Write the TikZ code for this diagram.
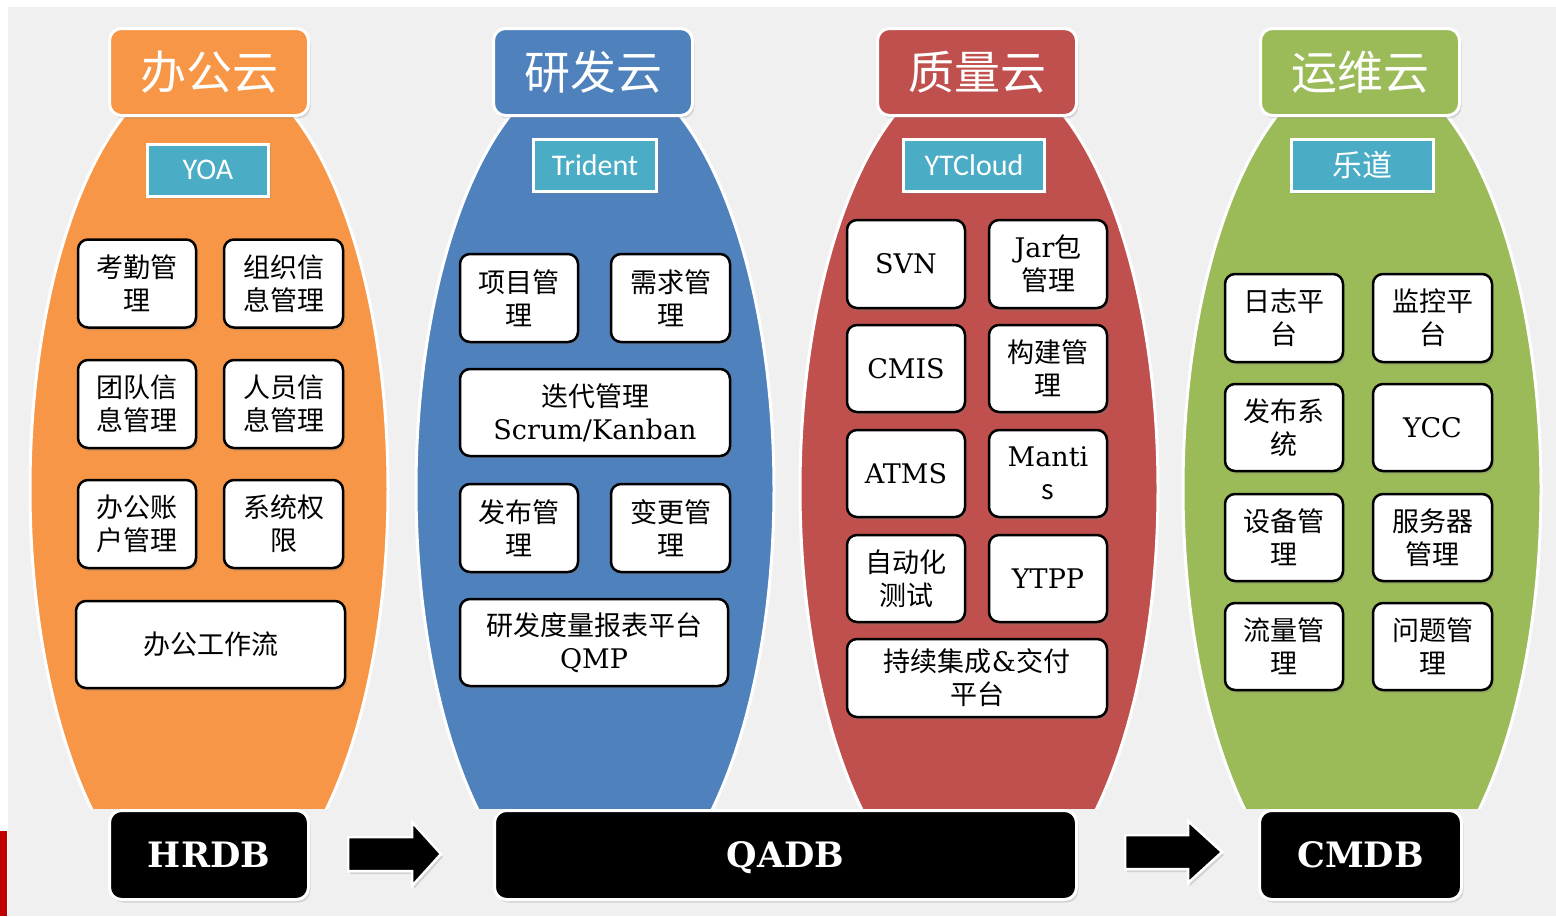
\documentclass[tikz,border=0pt]{standalone}
\usepackage{fontspec}
\setmainfont{DejaVu Serif}
\newfontfamily\cjk{Noto Sans CJK SC}
\newfontfamily\latf{DejaVu Serif}
\newfontfamily\subf{Carlito}
\usetikzlibrary{shadows}
\definecolor{bgc}{HTML}{F0F0F0}
\definecolor{orc}{HTML}{F79646}
\definecolor{blc}{HTML}{4F81BD}
\definecolor{rdc}{HTML}{C0504D}
\definecolor{grc}{HTML}{9BBB59}
\definecolor{cyc}{HTML}{4BACC6}
\definecolor{edgered}{HTML}{C00000}
\tikzset{
  shd/.style={drop shadow={opacity=0.25, shadow xshift=2pt, shadow yshift=-3pt}},
  headbox/.style={shd, rounded corners=12pt, draw=white, line width=3pt, text=white,
    font=\cjk\fontsize{46}{50}\selectfont, minimum width=199pt, minimum height=87pt, inner sep=0pt},
  subbox/.style={shd, fill=cyc, draw=white, line width=3pt, text=white,
    font=\subf\fontsize{30}{34}\selectfont, minimum height=52pt, inner sep=0pt},
  wbox/.style={shd, fill=white, draw=black, line width=2.5pt, rounded corners=10pt, align=center,
    font=\cjk\fontsize{27}{33}\selectfont, minimum height=88pt, minimum width=118pt, inner sep=1pt},
  dbbox/.style={shd, fill=black, draw=white, line width=3pt, rounded corners=12pt, text=white,
    font=\latf\bfseries\fontsize{35}{40}\selectfont, minimum height=89pt, inner sep=0pt,
    text height=25pt, text depth=0pt},
  cloud/.style={draw=white, line width=3pt},
  blockarrow/.style={fill=black, draw=white, line width=2.5pt, line join=miter, shd}
}
\begin{document}
\begin{tikzpicture}[x=1pt,y=-1pt]
\useasboundingbox (0,0) rectangle (1556,916);
\fill[white] (0,0) rectangle (1556,916);
\fill[bgc] (8,7) rectangle (1556,916);
\fill[edgered] (0,831) rectangle (7,916);

% cloud ellipses
\begin{scope}
\clip (0,100) rectangle (1556,808);
\path[cloud, fill=orc] (209,489) ellipse [x radius=179pt, y radius=424pt];
\path[cloud, fill=blc] (595,489) ellipse [x radius=179pt, y radius=424pt];
\path[cloud, fill=rdc] (979,489) ellipse [x radius=179pt, y radius=424pt];
\path[cloud, fill=grc] (1362,489) ellipse [x radius=179pt, y radius=424pt];
\end{scope}

% headers
\node[headbox, fill=orc] (h1) at (209,72) {办公云};
\node[headbox, fill=blc] (h2) at (593,72) {研发云};
\node[headbox, fill=rdc] (h3) at (977,72) {质量云};
\node[headbox, fill=grc] (h4) at (1360,72) {运维云};

% sub headers
\node[subbox, minimum width=121pt] (s1) at (208,170) {YOA};
\node[subbox, minimum width=123pt] (s2) at (595,165) {Trident};
\node[subbox, minimum width=141pt] (s3) at (974,165) {YTCloud};
\node[subbox, minimum width=142pt, font=\cjk\fontsize{30}{34}\selectfont] (s4) at (1362,165) {乐道};

% office cloud
\node[wbox] (a1) at (137,283.5) {考勤管\\理};
\node[wbox, minimum width=119pt] (a2) at (283.5,283.5) {组织信\\息管理};
\node[wbox] (a3) at (137,404) {团队信\\息管理};
\node[wbox, minimum width=119pt] (a4) at (283.5,404) {人员信\\息管理};
\node[wbox] (a5) at (137,524) {办公账\\户管理};
\node[wbox, minimum width=119pt] (a6) at (283.5,524) {系统权\\限};
\node[wbox, minimum width=269pt, minimum height=87pt] (a7) at (210.5,644.5) {办公工作流};

% R&D cloud
\node[wbox] (b1) at (519,298) {项目管\\理};
\node[wbox, minimum width=119pt] (b2) at (670.5,298) {需求管\\理};
\node[wbox, minimum width=270pt, minimum height=87pt] (b3) at (595,412.5) {迭代管理\\{\latf Scrum/Kanban}};
\node[wbox] (b4) at (519,528) {发布管\\理};
\node[wbox, minimum width=119pt] (b5) at (670.5,528) {变更管\\理};
\node[wbox, minimum width=268pt, minimum height=87pt] (b6) at (594,642.5) {研发度量报表平台\\{\latf QMP}};

% quality cloud
\node[wbox] (c1) at (906,264) {\latf SVN};
\node[wbox] (c2) at (1048,264) {{\latf Jar}包\\管理};
\node[wbox, minimum height=87pt] (c3) at (906,368.5) {\latf CMIS};
\node[wbox, minimum height=87pt] (c4) at (1048,368.5) {构建管\\理};
\node[wbox, minimum height=87pt] (c5) at (906,473.5) {\latf ATMS};
\node[wbox, minimum height=87pt] (c6) at (1048,473.5) {\latf Manti\\s};
\node[wbox, minimum height=87pt] (c7) at (906,578.5) {自动化\\测试};
\node[wbox, minimum height=87pt] (c8) at (1048,578.5) {\latf YTPP};
\node[wbox, minimum width=260pt, minimum height=78pt] (c9) at (977,678) {持续集成{\latf\&}交付\\平台};

% ops cloud
\node[wbox] (d1) at (1284,318) {日志平\\台};
\node[wbox, minimum width=119pt] (d2) at (1432.5,318) {监控平\\台};
\node[wbox, minimum height=87pt] (d3) at (1284,427.5) {发布系\\统};
\node[wbox, minimum width=119pt, minimum height=87pt] (d4) at (1432.5,427.5) {\latf YCC};
\node[wbox, minimum height=87pt] (d5) at (1284,537.5) {设备管\\理};
\node[wbox, minimum width=119pt, minimum height=87pt] (d6) at (1432.5,537.5) {服务器\\管理};
\node[wbox, minimum height=87pt] (d7) at (1284,646.5) {流量管\\理};
\node[wbox, minimum width=119pt, minimum height=87pt] (d8) at (1432.5,646.5) {问题管\\理};

% databases
\node[dbbox, minimum width=199pt] (db1) at (209,855) {HRDB};
\node[dbbox, minimum width=582pt] (db2) at (785.5,855) {QADB};
\node[dbbox, minimum width=202pt] (db3) at (1360.5,855) {CMDB};

% block arrows
\coordinate (ar1) at (348,854);
\coordinate (ar2) at (1125,852);
\draw[blockarrow] (ar1) ++(0,-17) -- ++(64,0) -- ++(0,-15) -- ++(29,32) -- ++(-29,32) -- ++(0,-15) -- ++(-64,0) -- cycle;
\draw[blockarrow] (ar2) ++(0,-17) -- ++(63,0) -- ++(0,-14) -- ++(34,31) -- ++(-34,31) -- ++(0,-14) -- ++(-63,0) -- cycle;
\end{tikzpicture}
\end{document}
